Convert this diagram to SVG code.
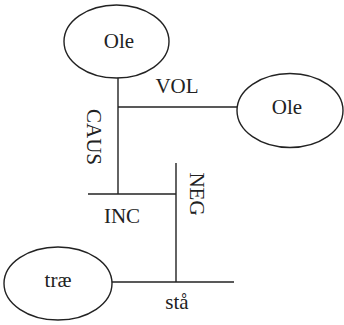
<svg xmlns="http://www.w3.org/2000/svg" width="344" height="325" viewBox="0 0 344 325">
<style>
.n{fill:none;stroke:#222;stroke-width:1.4}
.l{stroke:#222;stroke-width:1.4;fill:none}
text{font-family:"Liberation Serif","Times New Roman",serif;font-size:21px;fill:#222;text-anchor:middle}
</style>
<rect width="344" height="325" fill="#fff"/>
<g id="connectors">
<line class="l" x1="118" y1="78" x2="118" y2="194"/>
<line class="l" x1="118" y1="107" x2="237" y2="107"/>
<line class="l" x1="88" y1="194" x2="176" y2="194"/>
<line class="l" x1="176" y1="163" x2="176" y2="282"/>
<line class="l" x1="112" y1="282" x2="234" y2="282"/>
<text x="177" y="93">VOL</text>
<text transform="translate(94,137) rotate(90)" dy="0.35em">CAUS</text>
<text x="122" y="223">INC</text>
<text transform="translate(197,194) rotate(90)" dy="0.35em">NEG</text>
<text x="177" y="309">stå</text>
</g>
<g id="ole1">
<ellipse class="n" cx="116.5" cy="41.5" rx="52.5" ry="36.5"/>
<text x="119" y="48">Ole</text>
</g>
<g id="ole2">
<ellipse class="n" cx="290" cy="110.5" rx="53" ry="37"/>
<text x="287" y="114">Ole</text>
</g>
<g id="trae">
<ellipse class="n" cx="58" cy="283.5" rx="54" ry="36.5"/>
<text x="58" y="287">træ</text>
</g>
</svg>
